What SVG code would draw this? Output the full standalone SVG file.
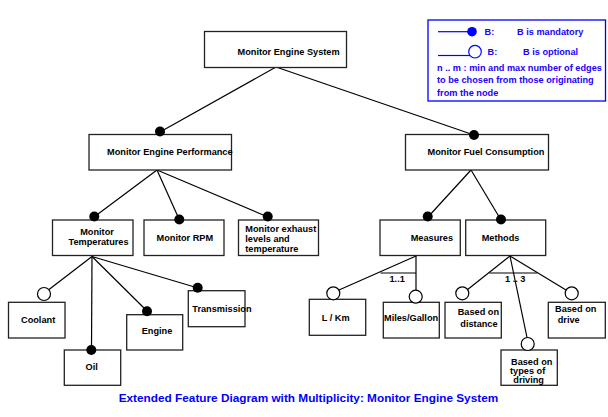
<svg xmlns="http://www.w3.org/2000/svg" width="608" height="417" viewBox="0 0 608 417">
<style>
.box{fill:#fff;stroke:#222;stroke-width:1.3}
.t{font-family:"Liberation Sans",Arial,sans-serif;font-weight:bold;font-size:9.2px;fill:#000}
.lg{font-family:"Liberation Sans",Arial,sans-serif;font-weight:bold;font-size:9.2px;fill:#2200ff}
.ln{stroke:#000;stroke-width:1.2;fill:none}
.man{fill:#000}
.opt{fill:#fff;stroke:#000;stroke-width:1.2}
</style>
<rect width="608" height="417" fill="#fff"/>
<g id="connectors">
<line class="ln" x1="276" y1="67" x2="160" y2="132"/>
<line class="ln" x1="276" y1="67" x2="474" y2="135"/>
<line class="ln" x1="157" y1="170" x2="94" y2="217"/>
<line class="ln" x1="157" y1="170" x2="179" y2="219"/>
<line class="ln" x1="157" y1="170" x2="268" y2="217"/>
<line class="ln" x1="471" y1="170" x2="428" y2="217"/>
<line class="ln" x1="471" y1="170" x2="501" y2="220"/>
<line class="ln" x1="92" y1="256.5" x2="49" y2="289.5"/>
<line class="ln" x1="92" y1="256.5" x2="91.5" y2="350"/>
<line class="ln" x1="92" y1="256.5" x2="147" y2="311"/>
<line class="ln" x1="92" y1="256.5" x2="198" y2="288"/>
<line class="ln" x1="416" y1="256" x2="339" y2="290"/>
<line class="ln" x1="416" y1="256" x2="416" y2="290"/>
<line class="ln" x1="380.5" y1="273" x2="416" y2="273"/>
<line class="ln" x1="510" y1="256" x2="467" y2="290"/>
<line class="ln" x1="510" y1="256" x2="527" y2="337.5"/>
<line class="ln" x1="510" y1="256" x2="566" y2="290"/>
<line class="ln" x1="489.5" y1="273" x2="537" y2="273"/>
<text class="t" x="389.5" y="282">1..1</text>
<text class="t" x="505" y="282">1 .. 3</text>
</g>
<g id="legend">
<rect x="428" y="20" width="177.5" height="81" fill="#fff" stroke="#0000ff" stroke-width="1.3"/>
<line x1="438" y1="31.7" x2="468" y2="31.7" stroke="#0000ff" stroke-width="1.2"/>
<circle cx="472" cy="31.7" r="4.8" fill="#0000ff"/>
<text class="lg" x="484.5" y="35">B:</text>
<text class="lg" x="517" y="35">B is mandatory</text>
<line x1="438" y1="55.5" x2="470" y2="55.5" stroke="#0000ff" stroke-width="1.2"/>
<circle cx="475" cy="51.7" r="6.3" fill="#fff" stroke="#0000ff" stroke-width="1.2"/>
<text class="lg" x="487.5" y="55">B:</text>
<text class="lg" x="523" y="55">B is optional</text>
<text class="lg" x="437" y="70.5">n .. m : min and max number of edges</text>
<text class="lg" x="437" y="82.5">to be chosen from those originating</text>
<text class="lg" x="437" y="95.5">from the node</text>
</g>
<g id="root">
<rect class="box" x="204.5" y="31.5" width="142" height="36"/>
<text class="t" x="237.5" y="55">Monitor Engine System</text>
</g>
<g id="perf">
<rect class="box" x="89" y="134.5" width="142.5" height="35.5"/>
<text class="t" x="107" y="155">Monitor Engine Performance</text>
<circle class="man" cx="160" cy="131.5" r="5"/>
</g>
<g id="fuel">
<rect class="box" x="405.5" y="134.5" width="143" height="35.5"/>
<text class="t" x="427.5" y="155">Monitor Fuel Consumption</text>
<circle class="man" cx="474" cy="135" r="5"/>
</g>
<g id="temps">
<rect class="box" x="52.5" y="220" width="80.5" height="35.5"/>
<text class="t" x="97" y="234.5" text-anchor="middle">Monitor</text>
<text class="t" x="68.5" y="244.5">Temperatures</text>
<circle class="man" cx="94.3" cy="216.5" r="5"/>
</g>
<g id="rpm">
<rect class="box" x="144" y="220" width="80" height="35.5"/>
<text class="t" x="156.5" y="240.5">Monitor RPM</text>
<circle class="man" cx="179.3" cy="219.5" r="5"/>
</g>
<g id="exhaust">
<rect class="box" x="238.5" y="220" width="80" height="35.5"/>
<text class="t" x="245.3" y="231.5">Monitor exhaust</text>
<text class="t" x="245.3" y="241.5">levels and</text>
<text class="t" x="245.3" y="251.5">temperature</text>
<circle class="man" cx="267.7" cy="216.5" r="5"/>
</g>
<g id="measures">
<rect class="box" x="380" y="220" width="80.3" height="35.5"/>
<text class="t" x="410.7" y="240.5">Measures</text>
<circle class="man" cx="427.7" cy="216.5" r="5"/>
</g>
<g id="methods">
<rect class="box" x="465.7" y="220" width="80" height="35.5"/>
<text class="t" x="481.7" y="240.5">Methods</text>
<circle class="man" cx="501" cy="219.5" r="5"/>
</g>
<g id="coolant">
<rect class="box" x="8.5" y="302.3" width="56.5" height="35.7"/>
<text class="t" x="21" y="323.3">Coolant</text>
<circle class="opt" cx="44" cy="294" r="6.5"/>
</g>
<g id="oil">
<rect class="box" x="64.3" y="350" width="56.4" height="35.3"/>
<text class="t" x="91.7" y="370" text-anchor="middle">Oil</text>
<circle class="man" cx="91.3" cy="350" r="5"/>
</g>
<g id="engine">
<rect class="box" x="126.7" y="314.7" width="56" height="35.3"/>
<text class="t" x="141.7" y="334.3">Engine</text>
<circle class="man" cx="147" cy="311.3" r="5"/>
</g>
<g id="transmission">
<rect class="box" x="188.3" y="290.7" width="56.7" height="36"/>
<text class="t" x="192.3" y="311.7">Transmission</text>
<circle class="man" cx="197.7" cy="287.7" r="5"/>
</g>
<g id="lkm">
<rect class="box" x="309.3" y="299.3" width="56.4" height="36"/>
<text class="t" x="321.7" y="320.7">L / Km</text>
<circle class="opt" cx="333.3" cy="293.3" r="6.5"/>
</g>
<g id="miles">
<rect class="box" x="383.3" y="302.3" width="56" height="35.7"/>
<text class="t" x="384" y="320.7">Miles/Gallon</text>
<circle class="opt" cx="415.7" cy="296.7" r="6.5"/>
</g>
<g id="distance">
<rect class="box" x="445" y="302.3" width="56.3" height="35.7"/>
<text class="t" x="457.7" y="315">Based on</text>
<text class="t" x="460.3" y="326.7">distance</text>
<circle class="opt" cx="462.3" cy="293.3" r="6.5"/>
</g>
<g id="types">
<rect class="box" x="501" y="350" width="56.3" height="35.3"/>
<text class="t" x="511" y="365">Based on</text>
<text class="t" x="510" y="373.7">types of</text>
<text class="t" x="513.3" y="382.7">driving</text>
<circle class="opt" cx="527.7" cy="344" r="6.5"/>
</g>
<g id="drive">
<rect class="box" x="548.3" y="302.3" width="57" height="35.7"/>
<text class="t" x="555" y="311.7">Based on</text>
<text class="t" x="557.7" y="323.3">drive</text>
<circle class="opt" cx="571.7" cy="293.3" r="6.5"/>
</g>
<text x="118.7" y="402.3" font-family="'Liberation Sans',Arial,sans-serif" font-weight="bold" font-size="11.8px" fill="#0000ff">Extended Feature Diagram with Multiplicity: Monitor Engine System</text>
</svg>
